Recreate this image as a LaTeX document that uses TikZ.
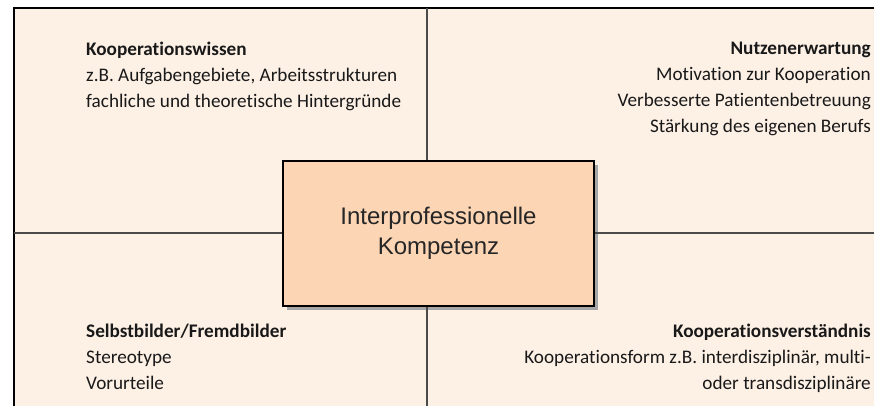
\documentclass[tikz,border=0pt]{standalone}
\usepackage{fontspec}
\setmainfont{Carlito}[Ligatures={NoCommon}]
\newfontfamily\arialfont{Liberation Sans}
\definecolor{bgfill}{HTML}{FDF0E5}
\definecolor{corefill}{HTML}{FCD5B5}
\definecolor{divider}{HTML}{4A4A4A}
\begin{document}
\begin{tikzpicture}[x=1pt,y=-1pt,
  txt/.style={inner sep=0pt, font=\fontsize{19.2}{26}\selectfont, text=black!90},
  dividerline/.style={draw=divider, line width=1.3pt},
  framebox/.style={draw=black, line width=2pt, fill=bgfill},
  corebox/.style={draw=black, line width=2.8pt, fill=corefill, minimum width=311pt, minimum height=145pt, inner sep=0pt,
    font=\arialfont\fontsize{24}{30}\selectfont, align=center, text=black!85}]
\useasboundingbox (0,0) rectangle (874,406);
\fill[white] (0,0) rectangle (874,406);
\draw[framebox] (874,8) -- (14,8) -- (14,406) -- (874,406);
\fill[bgfill] (15,9) rectangle (874,406);
\coordinate (vtop) at (427,8);
\coordinate (vbot) at (427,406);
\coordinate (hleft) at (14,233);
\coordinate (hright) at (874,233);
\fill[black!35] (287,165) rectangle (598,310);
\node[corebox] (core) at (438.5,233.5) {\raisebox{-2pt}{\parbox{300pt}{\centering Interprofessionelle\\Kompetenz}}};
\draw[dividerline] (vtop) -- (vtop |- core.north);
\draw[dividerline] (vbot |- core.south) -- (vbot);
\draw[dividerline] (hleft) -- (hleft -| core.west);
\draw[dividerline] (hright -| core.east) -- (hright);
\node[txt, anchor=north west, align=left] (tl) at (86,42) {{\bfseries Kooperationswissen}\\z.B. Aufgabengebiete, Arbeitsstrukturen\\fachliche und theoretische Hintergründe};
\node[txt, anchor=north east, align=right] (tr) at (871,42) {{\bfseries Nutzenerwartung}\\Motivation zur Kooperation\\Verbesserte Patientenbetreuung\\Stärkung des eigenen Berufs};
\node[txt, anchor=north west, align=left] (bl) at (86,324) {{\bfseries Selbstbilder/Fremdbilder}\\Stereotype\\Vorurteile};
\node[txt, anchor=north east, align=right] (br) at (871,324) {{\bfseries Kooperationsverständnis}\\Kooperationsform z.B. interdisziplinär, multi-\\oder transdisziplinäre};
\end{tikzpicture}
\end{document}
